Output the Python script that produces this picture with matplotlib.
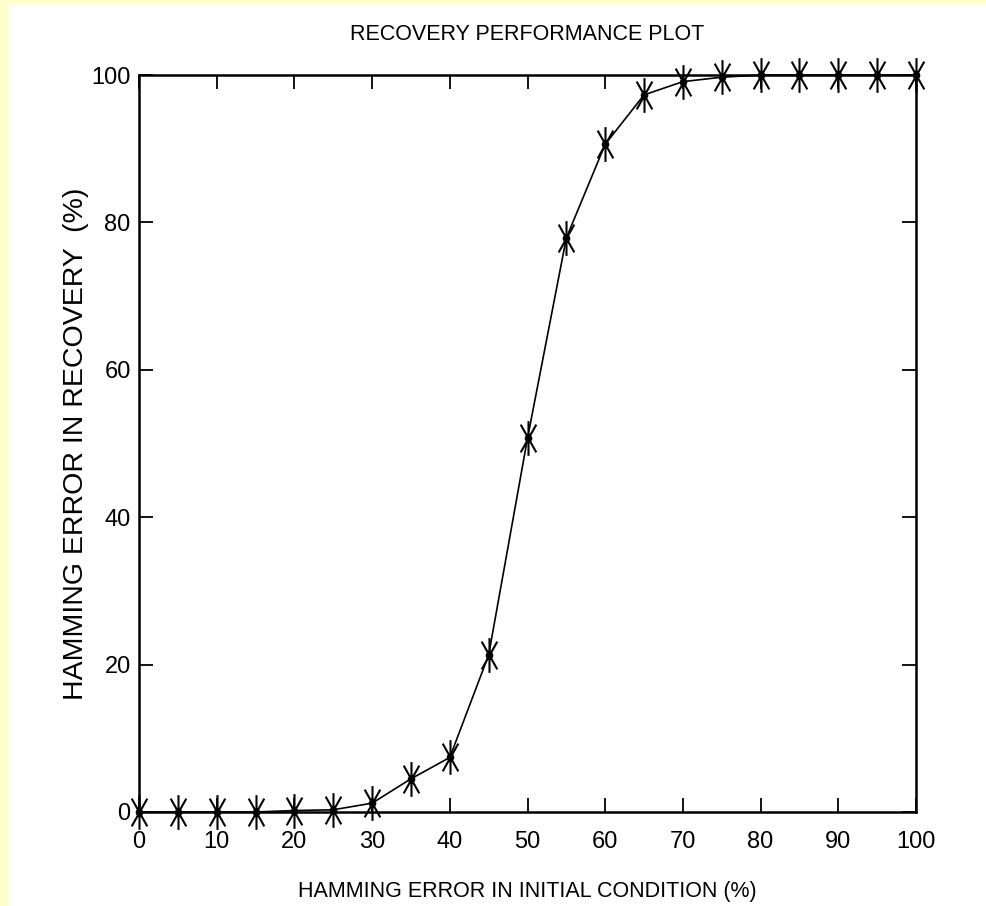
import matplotlib.pyplot as plt
from matplotlib.patches import Rectangle
from matplotlib.path import Path
from matplotlib.ticker import MultipleLocator

# recovery performance data
hamming_initial = [0, 5, 10, 15, 20, 25, 30, 35, 40, 45, 50,
                   55, 60, 65, 70, 75, 80, 85, 90, 95, 100]
hamming_recovery = [0, 0, 0, 0, 0.2, 0.3, 1.2, 4.5, 7.4, 21.3, 50.7,
                    77.9, 90.6, 97.3, 99.1, 99.7, 100, 100, 100, 100, 100]

plt.rcParams['font.family'] = ['Liberation Sans', 'DejaVu Sans']

# matlab style asterisk: vertical stroke plus two steep diagonals
star = Path([(0, -1), (0, 1), (-0.45, -0.8), (0.45, 0.8), (0.45, -0.8), (-0.45, 0.8)],
            [Path.MOVETO, Path.LINETO, Path.MOVETO, Path.LINETO, Path.MOVETO, Path.LINETO])

fig = plt.figure(figsize=(9.87, 9.06), dpi=100, facecolor='#ffffcc')
# white panel, yellow strip only on the left and top
fig.patches.append(Rectangle((9 / 987, 0), 1, 1 - 5 / 906, transform=fig.transFigure,
                             facecolor='white', edgecolor='none', zorder=-1))

ax = fig.add_axes([139 / 987, 1 - 812 / 906, (916 - 139) / 987, (812 - 75) / 906])
ax.set_facecolor('white')

ax.plot(hamming_initial, hamming_recovery, color='black', linewidth=1.2, clip_on=False)
ax.plot(hamming_initial, hamming_recovery, linestyle='none', marker=star,
        markersize=25, markeredgewidth=1.5, color='black', clip_on=False)
ax.plot(hamming_initial, hamming_recovery, linestyle='none', marker='o',
        markersize=4.5, color='black', clip_on=False)

ax.set_xlim(0, 100)
ax.set_ylim(0, 100)
ax.xaxis.set_major_locator(MultipleLocator(10))
ax.yaxis.set_major_locator(MultipleLocator(20))
ax.tick_params(direction='in', length=10, width=1.3, top=True, right=True, labelsize=17)
ax.tick_params(axis='x', pad=14)
ax.tick_params(axis='y', pad=6)
for s in ax.spines.values():
    s.set_linewidth(1.8)

ax.set_title('RECOVERY PERFORMANCE PLOT', fontsize=15.5, pad=25)
ax.set_xlabel('HAMMING ERROR IN INITIAL CONDITION (%)', fontsize=15.5)
ax.xaxis.set_label_coords(0.5, (812 - 881) / 737)
ax.set_ylabel('HAMMING ERROR IN RECOVERY  (%)', fontsize=20.5)
ax.yaxis.set_label_coords((89 - 139) / 777, 0.5)

fig.savefig('out.png', dpi=100, facecolor=fig.get_facecolor())
